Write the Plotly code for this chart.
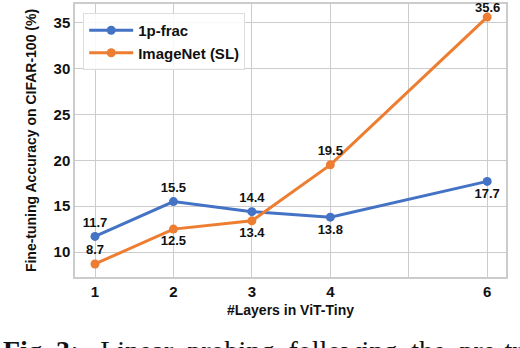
import plotly.graph_objects as go

layers = [1, 2, 3, 4, 6]
frac_vals = [11.7, 15.5, 14.4, 13.8, 17.7]
imnet_vals = [8.7, 12.5, 13.4, 19.5, 35.6]
frac_pos = ["top center", "top center", "top center", "bottom center", "bottom center"]
imnet_pos = ["top center", "bottom center", "bottom center", "top center", "top center"]
x_tickvals = [1, 2, 3, 4, 5, 6]
x_ticktext = ["1", "2", "3", "4", "", "6"]
y_ticks = [10, 15, 20, 25, 30, 35]

BLUE = "#4472C4"
ORANGE = "#ED7D31"
FONT = "Liberation Sans"
LABEL_FONT = dict(family=FONT, size=13, color="#111", weight="bold")

fig = go.Figure()
fig.add_trace(go.Scatter(
    x=layers, y=frac_vals, name="1p-frac", mode="lines+markers+text",
    line=dict(color=BLUE, width=3), marker=dict(size=9, color=BLUE),
    text=[f"{v:.1f}" for v in frac_vals], textposition=frac_pos,
    textfont=LABEL_FONT, cliponaxis=False,
))
# last ImageNet label sits near the top edge; drawn as an annotation below
imnet_text = [f"{v:.1f}" for v in imnet_vals[:-1]] + [""]
fig.add_trace(go.Scatter(
    x=layers, y=imnet_vals, name="ImageNet (SL)", mode="lines+markers+text",
    line=dict(color=ORANGE, width=3), marker=dict(size=9, color=ORANGE),
    text=imnet_text, textposition=imnet_pos,
    textfont=LABEL_FONT, cliponaxis=False,
))
fig.add_annotation(
    x=layers[-1], y=imnet_vals[-1], text=f"{imnet_vals[-1]:.1f}",
    showarrow=False, yanchor="bottom", yshift=0, font=LABEL_FONT,
)

fig.update_layout(
    width=520, height=348,
    margin=dict(l=75, r=14, t=4, b=71, autoexpand=False),
    paper_bgcolor="white", plot_bgcolor="white",
    font=dict(family=FONT, color="#111"),
    legend=dict(
        x=0.019, y=0.967, xanchor="left", yanchor="top",
        bgcolor="rgba(255,255,255,0.85)", bordercolor="#dddddd", borderwidth=1,
        font=dict(family=FONT, size=15, weight="bold"),
        itemwidth=44, tracegroupgap=2,
    ),
    showlegend=True,
)
fig.update_xaxes(
    range=[0.745, 6.24], tickvals=x_tickvals, ticktext=x_ticktext, automargin=False,
    showgrid=True, gridcolor="#cccccc", gridwidth=1, zeroline=False,
    showline=True, linecolor="#cccccc", linewidth=1.5, mirror=True,
    ticks="", tickfont=dict(family=FONT, size=15, weight="bold"),
    title=dict(text="#Layers in ViT-Tiny", font=dict(family=FONT, size=14, weight="bold"), standoff=6),
)
fig.update_yaxes(
    range=[7.28, 37.03], tickvals=y_ticks, automargin=False,
    showgrid=True, gridcolor="#cccccc", gridwidth=1,
    showline=True, linecolor="#cccccc", linewidth=1.5, mirror=True,
    ticks="", tickfont=dict(family=FONT, size=15, weight="bold"),
    zeroline=False,
    title=dict(text="Fine-tuning Accuracy on CIFAR-100 (%)", font=dict(family=FONT, size=14, weight="bold"), standoff=14),
)
fig.add_annotation(
    xref="paper", yref="paper", x=-0.172, y=-0.205, xanchor="left", yanchor="top",
    text="<b>Fig. 3:</b>&nbsp;&nbsp;&nbsp;Linear&nbsp;&nbsp;probing&nbsp;&nbsp;following&nbsp;&nbsp;the&nbsp;&nbsp;pre-training",
    showarrow=False, font=dict(family="Liberation Serif", size=28, color="#111"),
)
fig.write_html(
    "out.html",
    config={"displayModeBar": False},
    post_script="document.body.style.margin='0';document.body.style.overflow='hidden';",
)
